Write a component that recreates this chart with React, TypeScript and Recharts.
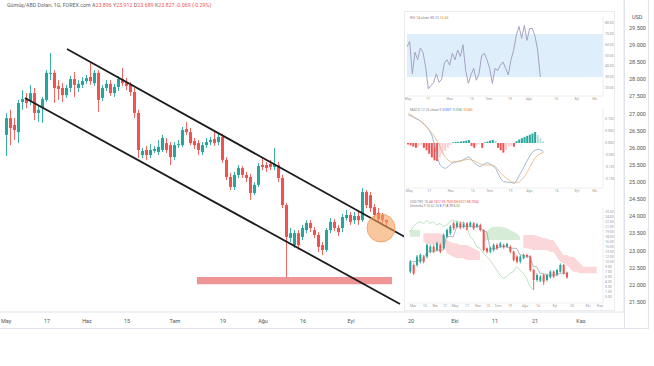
import React from "react";
import {
  ComposedChart,
  Bar,
  Line,
  Area,
  XAxis,
  YAxis,
  ReferenceLine,
  ReferenceArea,
  ReferenceDot,
  Cell,
} from "recharts";

const UP = "#26a69a";
const DOWN = "#ef5350";
const AXIS_TEXT = "#555";
const FRAME = "#e0e3eb";

// main chart: Gümüş/ABD Doları, daily candles
const OPEN = [
  26.38, 26.87, 26.67, 26.46, 27.34, 27.43, 27.37, 27.6, 27.02, 27.16,
  27.4, 28.16, 28.19, 27.81, 27.75, 27.54, 27.75, 28.01, 27.75, 27.84,
  27.95, 28.07, 27.89, 28.19, 27.46, 27.75, 27.87, 27.6, 27.78, 28.01,
  27.92, 27.84, 27.63, 27.02, 25.79, 25.94, 25.79, 25.91, 25.88, 25.94,
  26.14, 26.08, 25.73, 26.08, 26.08, 26.55, 26.46, 26.2, 26.14, 25.88,
  26.08, 26.17, 26.26, 26.17, 26.32, 25.65, 25.15, 24.86, 25.21, 25.41,
  25.21, 25.15, 24.68, 24.92, 25.5, 25.5, 25.53, 25.44, 25.5, 25.12,
  24.33, 23.37, 23.16, 23.51, 23.4, 23.6, 23.81, 23.6, 23.46, 23.16,
  23.02, 23.6, 23.84, 23.66, 23.66, 23.95, 24.04, 23.89, 24.01, 23.89,
  24.71, 24.62, 24.27, 24.1, 24.04, 23.896,
];
const HIGH = [
  27.02, 27.11, 26.87, 27.4, 27.69, 27.6, 27.84, 27.75, 27.25, 27.49,
  28.27, 28.77, 28.27, 27.98, 27.89, 27.84, 28.1, 28.22, 27.98, 28.07,
  28.13, 28.48, 28.27, 28.27, 27.84, 27.98, 27.98, 27.87, 28.1, 28.33,
  28.04, 27.92, 27.75, 27.11, 26.0, 26.06, 26.11, 26.06, 26.23, 26.38,
  26.29, 26.17, 26.17, 26.23, 26.61, 26.76, 26.58, 26.29, 26.23, 26.17,
  26.29, 26.32, 26.49, 26.41, 26.41, 25.73, 25.27, 25.3, 25.5, 25.47,
  25.3, 25.24, 25.0, 25.56, 25.73, 25.59, 25.65, 26.0, 25.59, 25.21,
  24.39, 23.66, 23.6, 23.6, 23.75, 23.89, 23.89, 23.69, 23.54, 23.25,
  23.66, 23.95, 23.92, 23.75, 24.07, 24.19, 24.13, 24.13, 24.13, 24.83,
  24.77, 24.71, 24.36, 24.24, 24.1, 23.912,
];
const LOW = [
  25.76, 26.08, 26.23, 26.14, 27.11, 27.16, 27.25, 26.81, 26.76, 26.73,
  27.34, 27.98, 27.31, 27.4, 27.34, 27.46, 27.63, 27.49, 27.63, 27.75,
  27.87, 27.84, 27.81, 27.05, 27.37, 27.66, 27.52, 27.49, 27.66, 27.81,
  27.69, 27.52, 26.87, 25.7, 25.7, 25.65, 25.7, 25.85, 25.79, 25.88,
  25.85, 25.5, 25.65, 26.0, 26.03, 26.38, 26.08, 25.97, 25.79, 25.79,
  26.0, 26.08, 26.06, 26.08, 25.56, 25.06, 24.77, 24.77, 25.12, 25.12,
  25.0, 24.48, 24.62, 24.86, 25.35, 25.3, 25.35, 25.35, 25.0, 24.24,
  22.23, 23.25, 23.08, 23.02, 23.31, 23.51, 23.54, 23.37, 22.96, 22.87,
  22.96, 23.51, 23.57, 23.43, 23.54, 23.87, 23.75, 23.78, 23.75, 23.84,
  24.24, 24.13, 23.95, 23.84, 23.8, 23.689,
];
const CLOSE = [
  26.87, 26.58, 26.52, 27.31, 27.43, 27.31, 27.6, 27.02, 27.11, 27.43,
  28.19, 28.19, 27.75, 27.72, 27.54, 27.75, 28.01, 27.84, 27.87, 27.95,
  28.04, 27.95, 28.19, 27.4, 27.75, 27.87, 27.6, 27.78, 28.01, 27.89,
  27.81, 27.63, 27.02, 25.94, 25.91, 25.79, 25.94, 25.97, 26.03, 26.29,
  25.94, 25.73, 26.08, 26.11, 26.52, 26.46, 26.14, 26.08, 25.94, 26.08,
  26.17, 26.23, 26.14, 26.32, 25.65, 25.15, 24.86, 25.21, 25.41, 25.21,
  25.12, 24.68, 24.92, 25.47, 25.44, 25.41, 25.44, 25.53, 25.12, 24.33,
  23.4, 23.51, 23.51, 23.16, 23.66, 23.81, 23.66, 23.46, 23.11, 23.02,
  23.6, 23.84, 23.66, 23.54, 23.98, 24.04, 23.84, 24.01, 23.89, 24.71,
  24.33, 24.24, 24.04, 23.92, 23.9, 23.827,
];

const X_TICKS = [-0.2, 10, 20, 30, 42, 54, 64, 74, 86, 101, 112, 122, 132, 143.5];
const X_LABELS = ["May", "17", "Haz", "15", "Tem", "19", "Ağu", "16", "Eyl", "20", "Eki", "11", "21", "Kas"];
const PRICE_TICKS = [
  21.5, 22, 22.5, 23, 23.5, 24, 24.5, 25, 25.5, 26, 26.5, 27, 27.5, 28, 28.5, 29, 29.5,
];

// drawings on the main chart
const UPPER_LINE = [
  { x: 15, y: 28.887 },
  { x: 99.5, y: 23.398 },
];
const LOWER_LINE = [
  { x: 4.5, y: 27.456 },
  { x: 98.25, y: 21.442 },
];
const SUPPORT_ZONE = { x1: 47.5, x2: 96.25, y1: 22.02, y2: 22.23 };
const MARKER = { x: 93.5, y: 23.66 };

// inset 1: RSI
const RSI = [
  58, 63, 33, 53, 46, 57, 53, 39, 19, 22, 25, 33, 25, 28, 43, 46, 41, 52, 46, 55,
  49, 60, 36, 24, 32, 38, 27, 33, 50, 52, 46, 38, 24, 38, 36, 41, 44, 38, 32, 46,
  55, 69, 77, 66, 78, 64, 75, 75, 68, 55, 30,
];
// inset 2: MACD
const HIST = [
  -0.006, -0.01, -0.015, -0.02, -0.015, -0.008, -0.02, -0.03, -0.045, -0.06, -0.072, -0.075,
  -0.06, -0.045, -0.032, -0.02, -0.008, 0.003, 0.004, 0.005, 0.006, 0.008, 0.01, 0.012,
  -0.012, -0.02, -0.008, -0.005, -0.02, 0.003, 0.006, 0.01, 0.013, 0.01, -0.02, -0.03,
  -0.04, -0.03, -0.015, -0.012, -0.015, 0.008, 0.015, 0.02, 0.025, 0.03, 0.035, 0.04,
  0.046, 0.033, 0.02, 0.007,
];
const MACD = [
  0.117, 0.113, 0.107, 0.101, 0.096, 0.088, 0.079, 0.068, 0.051, 0.029, -0.015, -0.064,
  -0.092, -0.101, -0.106, -0.099, -0.088, -0.082, -0.079, -0.076, -0.074, -0.068, -0.063,
  -0.057, -0.071, -0.085, -0.092, -0.099, -0.093, -0.085, -0.082, -0.088, -0.096, -0.106,
  -0.129, -0.151, -0.161, -0.163, -0.164, -0.165, -0.168, -0.154, -0.133, -0.113, -0.092,
  -0.071, -0.05, -0.036, -0.029, -0.026, -0.029, -0.036,
];
const SIGNAL = [
  0.124, 0.118, 0.11, 0.103, 0.096, 0.088, 0.076, 0.065, 0.054, 0.04, 0.024, 0.007,
  -0.015, -0.04, -0.06, -0.071, -0.078, -0.079, -0.078, -0.076, -0.074, -0.071, -0.069,
  -0.068, -0.071, -0.075, -0.081, -0.086, -0.09, -0.092, -0.092, -0.092, -0.093, -0.099,
  -0.113, -0.126, -0.138, -0.147, -0.154, -0.161, -0.165, -0.165, -0.161, -0.151, -0.138,
  -0.119, -0.099, -0.078, -0.06, -0.05, -0.043, -0.04,
];
const INSET_TICKS = [0.4, 7.9, 16, 24.3, 30.7, 38.6, 45.7, 56, 63.7, 70.4];
const INSET_LABELS = ["May", "17", "Haz", "15", "Tem", "19", "Ağu", "16", "Eyl", "Eki"];

// inset 3: candles with Ichimoku cloud
const I3_OPEN = [
  7.5, 9.5, 9.5, 10.5, 12, 12, 13.5, 15, 14, 15.5, 14.5, 18, 19, 22, 21, 22, 21, 22, 21.2, 22,
  21, 21.5, 20, 14.5, 13.5, 14, 15.5, 15, 15.5, 15, 15, 13.5, 12, 10.5, 11.5, 12.5, 12, 8, 5,
  4.8, 6.5, 5, 5.8, 7.5, 6.5, 7.5, 9.5, 7.2,
];
const I3_CLOSE = [
  10.5, 7, 12, 12.5, 10.5, 15.5, 15, 13.5, 16, 13.5, 18.5, 20, 21, 20.5, 22.2, 20.8, 22, 20.2,
  22.2, 20.5, 21.7, 20, 14, 13.5, 14.5, 15.5, 14.5, 16, 14.8, 15.8, 13.5, 11, 10.5, 12, 12.5,
  12, 8, 5, 6.5, 6, 4.5, 6.5, 7.5, 6, 8, 9.5, 7, 5.8,
];
const I3_HIGH = [
  11, 10, 12.5, 13, 12.5, 16, 15.5, 15.5, 16.5, 16, 19, 20.5, 21.5, 22.5, 22.8, 22.5, 22.5,
  22.4, 22.6, 22.4, 22.1, 21.9, 20.3, 14.8, 15, 16, 16, 16.4, 15.9, 16.2, 15.4, 13.8, 12.4,
  12.4, 12.9, 12.9, 12.4, 8.4, 7, 6.4, 6.9, 6.9, 7.9, 7.9, 8.4, 10, 9.8, 7.5,
];
const I3_LOW = [
  7, 6.5, 9, 10, 10, 11.5, 13, 13, 13.5, 13, 14, 17.5, 18.5, 20, 20.5, 20.2, 20.5, 19.8, 20.8,
  20, 20.6, 19.6, 13.5, 13, 13, 13.5, 14, 14.6, 14.4, 14.6, 13, 10.6, 10, 10, 11.2, 11.6, 7.5,
  2, 4.5, 4.4, 3.5, 4.6, 5.4, 5.6, 6.1, 7.2, 6.6, 5.4,
];
const SPAN_A = [
  20, 20, 20, 20, 16.5, 16, 15.5, 15.5, 15.5, 15.5, 15.8, 13, 12.5, 12, 11.5, 11.5, 11.5, 11,
  11, 11, 11, 11, 18, 19.5, 20.5, 21, 21, 21, 20.8, 20.5, 20, 19.5, 19, 18, 14.5, 14.5, 14.3,
  14, 14, 14, 14, 14, 13.5, 13.5, 12, 10.5, 10, 9.5, 8.5, 7.5, 7.5, 7, 7, 7, 7, 7, 7,
];
const SPAN_B = [
  18, 18, 18, 18, 19, 19, 19, 19, 19, 19, 18.5, 17, 16.5, 16, 16, 15.5, 15.5, 15.5, 15, 14.5,
  14, 13.5, 16.5, 17, 17, 17, 17, 17, 17, 17, 17, 17, 17, 17, 18.5, 18.5, 18.5, 18.5, 18.3, 18,
  17.5, 17.5, 17, 17, 15.5, 14, 12.5, 12.5, 12, 12, 11, 10, 9, 9, 9, 9, 9,
];
const LAGGING = [
  19.5, 21, 22, 22.5, 22, 22.8, 22, 22.5, 21.5, 22, 21, 21.5, 22.5, 23, 22.2, 22.5, 22, 21, 18,
  17, 15, 14.5, 13, 12, 11, 9.5, 8, 6.5, 5.5, 6, 7, 7.5, 9, 8, 7, 5.5, 3, 2,
];
const BASE_LINE = [
  10.5, 10.5, 10.5, 11, 11, 13.5, 13.5, 13.5, 14, 14, 14, 18, 18, 18, 21, 21, 21, 21, 21, 21,
  21, 21, 19.5, 19.5, 14.5, 14.5, 14.5, 15, 15, 15, 14.5, 14.5, 14.5, 12.5, 12.5, 12, 12, 9, 9,
  7, 7, 6.5, 6.5, 6.5, 6.5, 7, 7, 7,
];
const I3_TICKS = [0.9, 4.5, 7.5, 10.5, 13.5, 17.1, 20.4, 23.4, 26.4, 30, 34.5, 38.4, 43.5, 48.6, 53.4, 57];
const I3_LABELS = ["Mar", "15", "Nis", "12", "May", "17", "Haz", "15", "Tem", "19", "Ağu", "16", "Eyl", "20", "Eki", "Kas"];
const I3_PRICE_TICKS = [
  0, 1.5, 3, 4.5, 6, 7.5, 9, 10.5, 12, 13.5, 15, 16.5, 18, 19.5, 21, 22.5, 24, 25.5,
];

const mainData = OPEN.map((o, i) => ({
  i,
  o,
  h: HIGH[i],
  l: LOW[i],
  c: CLOSE[i],
  range: [LOW[i], HIGH[i]],
}));

const rsiData = RSI.map((v, i) => ({ i, v }));

const macdData = HIST.map((h, i) => ({ i, h, macd: MACD[i], signal: SIGNAL[i] }));

const histColor = (h: number, prev: number) => {
  if (h >= 0) return h >= prev ? "#26a69a" : "#b2dfdb";
  return h <= prev ? "#ef5350" : "#ffcdd2";
};

const ichiData = SPAN_A.map((a, i) => {
  const b = SPAN_B[i];
  const row: any = {
    i,
    green: a >= b ? [b, a] : null,
    red: a < b ? [a, b] : null,
    lag: i < LAGGING.length ? LAGGING[i] : null,
    base: i < BASE_LINE.length ? BASE_LINE[i] : null,
  };
  if (i < I3_OPEN.length) {
    row.o = I3_OPEN[i];
    row.h = I3_HIGH[i];
    row.l = I3_LOW[i];
    row.c = I3_CLOSE[i];
    row.range = [I3_LOW[i], I3_HIGH[i]];
  } else {
    row.range = null;
  }
  return row;
});

const Candle = (props: any) => {
  const { x, y, width, height, payload } = props;
  if (!payload || payload.o == null || x == null || y == null) return null;
  const { o, h, l, c } = payload;
  const top = Math.min(y, y + height);
  const span = Math.abs(height);
  const k = h - l === 0 ? 0 : span / (h - l);
  const yO = top + (h - o) * k;
  const yC = top + (h - c) * k;
  const color = c >= o ? UP : DOWN;
  const cx = x + width / 2;
  return (
    <g>
      <line x1={cx} x2={cx} y1={top} y2={top + span} stroke={color} strokeWidth={0.9} />
      <rect
        x={x}
        y={Math.min(yO, yC)}
        width={width}
        height={Math.max(Math.abs(yO - yC), 1)}
        fill={color}
      />
    </g>
  );
};

const tinyTick = { fontSize: 3.5, fill: "#999" };

export default function App() {
  return (
    <div
      style={{
        position: "absolute",
        left: 0,
        top: 0,
        width: 654,
        height: 366,
        background: "#fff",
        overflow: "hidden",
        fontFamily: "Roboto, sans-serif",
      }}
    >
      <ComposedChart
        width={654}
        height={330}
        data={mainData}
        margin={{ top: 0, right: 6, bottom: 2, left: 0 }}
      >
        <XAxis
          dataKey="i"
          type="number"
          domain={[-1.75, 154.25]}
          allowDataOverflow
          ticks={X_TICKS}
          interval={0}
          tickFormatter={(_v: number, idx: number) => X_LABELS[idx]}
          height={16}
          tickLine={false}
          tickSize={5}
          tickMargin={2}
          axisLine={{ stroke: FRAME }}
          tick={{ fontSize: 5.5, fill: AXIS_TEXT }}
        />
        <YAxis
          orientation="right"
          width={24}
          domain={[21.208, 30.318]}
          allowDataOverflow
          ticks={PRICE_TICKS}
          interval={0}
          tickFormatter={(v: number) => v.toFixed(3)}
          tickLine={false}
          tickSize={3}
          tickMargin={2}
          axisLine={{ stroke: FRAME }}
          tick={{ fontSize: 5.5, fill: AXIS_TEXT }}
        />
        <Bar dataKey="range" barSize={3} shape={(p: any) => <Candle {...p} />} isAnimationActive={false} />
        <ReferenceLine segment={UPPER_LINE} stroke="#1c1c1c" strokeWidth={1.8} ifOverflow="visible" />
        <ReferenceLine segment={LOWER_LINE} stroke="#1c1c1c" strokeWidth={1.8} ifOverflow="visible" />
        <ReferenceArea
          x1={SUPPORT_ZONE.x1}
          x2={SUPPORT_ZONE.x2}
          y1={SUPPORT_ZONE.y1}
          y2={SUPPORT_ZONE.y2}
          fill="#ee8a8a"
          fillOpacity={0.9}
          stroke="none"
          ifOverflow="visible"
        />
        <ReferenceDot
          x={MARKER.x}
          y={MARKER.y}
          r={14}
          fill="#f4a25e"
          fillOpacity={0.6}
          stroke="#f29a55"
          strokeWidth={0.8}
          ifOverflow="visible"
        />
      </ComposedChart>

      {/* frame of the price/time scales */}
      <div style={{ position: "absolute", left: 624, top: 0, width: 1, height: 328, background: FRAME }} />
      <div style={{ position: "absolute", left: 648, top: 0, width: 1, height: 328, background: FRAME }} />
      <div style={{ position: "absolute", left: 0, top: 328, width: 649, height: 1, background: FRAME }} />
      <div style={{ position: "absolute", left: 632, top: 14, fontSize: 5.5, color: AXIS_TEXT }}>USD</div>

      <div
        style={{
          position: "absolute",
          left: 7,
          top: 3,
          fontSize: 5.3,
          lineHeight: 1,
          color: "#666",
          whiteSpace: "nowrap",
        }}
      >
        Gümüş/ABD Doları, 1G, FOREX.com{" "}
        <span>A</span>
        <span style={{ color: DOWN }}>23.896</span> <span>Y</span>
        <span style={{ color: DOWN }}>23.912</span> <span>D</span>
        <span style={{ color: DOWN }}>23.689</span> <span>K</span>
        <span style={{ color: DOWN }}>23.827 -0.069 (-0.29%)</span>
      </div>

      {/* indicator screenshots pasted over the right side */}
      <div
        style={{
          position: "absolute",
          left: 405,
          top: 12,
          width: 209,
          height: 298,
          background: "#fff",
          outline: "1px solid #ececec",
        }}
      >
        <div style={{ position: "absolute", left: 0, top: 0 }}>
          <ComposedChart width={209} height={92} data={rsiData} margin={{ top: 4, right: 0, bottom: 0, left: 2 }}>
            <XAxis
              dataKey="i"
              type="number"
              domain={[0, 73.5]}
              allowDataOverflow
              ticks={INSET_TICKS}
              interval={0}
              tickFormatter={(_v: number, idx: number) => INSET_LABELS[idx]}
              height={8}
              tickLine={false}
              tickSize={1}
              tickMargin={1}
              axisLine={{ stroke: "#eee" }}
              tick={tinyTick}
            />
            <YAxis
              orientation="right"
              width={11}
              domain={[12.3, 86.7]}
              allowDataOverflow
              ticks={[20, 30, 40, 50, 60, 70, 80]}
              interval={0}
              tickFormatter={(v: number) => v.toFixed(2)}
              tickLine={false}
              tickSize={1}
              tickMargin={1}
              axisLine={{ stroke: "#eee" }}
              tick={tinyTick}
            />
            <ReferenceArea y1={30} y2={70} fill="#dfeefb" fillOpacity={1} stroke="none" />
            <Line dataKey="v" stroke="#a4a3c2" strokeWidth={1} dot={false} isAnimationActive={false} />
          </ComposedChart>
        </div>
        <div style={{ position: "absolute", left: 5, top: 4, fontSize: 3.5, color: "#888", whiteSpace: "nowrap" }}>
          RSI 14 close <span style={{ color: "#7e57c2" }}>30.12</span>{" "}
          <span style={{ color: "#f0a040" }}>55.48</span>
        </div>

        <div style={{ position: "absolute", left: 0, top: 92 }}>
          <ComposedChart width={209} height={92} data={macdData} margin={{ top: 4, right: 0, bottom: 0, left: 2 }}>
            <XAxis
              dataKey="i"
              type="number"
              domain={[-0.5, 73.5]}
              allowDataOverflow
              ticks={INSET_TICKS}
              interval={0}
              tickFormatter={(_v: number, idx: number) => INSET_LABELS[idx]}
              height={8}
              tickLine={false}
              tickSize={1}
              tickMargin={1}
              axisLine={{ stroke: "#eee" }}
              tick={tinyTick}
            />
            <YAxis
              orientation="right"
              width={11}
              domain={[-0.1875, 0.146]}
              allowDataOverflow
              ticks={[0.1, 0.05, 0, -0.05, -0.1, -0.15]}
              interval={0}
              tickFormatter={(v: number) => v.toFixed(3)}
              tickLine={false}
              tickSize={1}
              tickMargin={1}
              axisLine={{ stroke: "#eee" }}
              tick={tinyTick}
            />
            <Bar dataKey="h" barSize={2} isAnimationActive={false}>
              {macdData.map((d, i) => (
                <Cell key={i} fill={histColor(d.h, i > 0 ? macdData[i - 1].h : 0)} />
              ))}
            </Bar>
            <Line dataKey="macd" stroke="#8ea7cf" strokeWidth={0.8} dot={false} isAnimationActive={false} />
            <Line dataKey="signal" stroke="#e3b27e" strokeWidth={0.8} dot={false} isAnimationActive={false} />
          </ComposedChart>
        </div>
        <div style={{ position: "absolute", left: 5, top: 96, fontSize: 3.5, color: "#888", whiteSpace: "nowrap" }}>
          MACD 12 26 close 9 <span style={{ color: "#2962ff" }}>0.007</span>{" "}
          <span style={{ color: "#26a69a" }}>-0.036</span>{" "}
          <span style={{ color: "#ff6d00" }}>-0.040</span>
        </div>

        <div style={{ position: "absolute", left: 0, top: 184 }}>
          <ComposedChart width={209} height={115} data={ichiData} margin={{ top: 12, right: 0, bottom: 0, left: 2 }}>
            <XAxis
              dataKey="i"
              type="number"
              domain={[-0.9, 57.9]}
              allowDataOverflow
              ticks={I3_TICKS}
              interval={0}
              tickFormatter={(_v: number, idx: number) => I3_LABELS[idx]}
              height={8}
              tickLine={false}
              tickSize={1}
              tickMargin={1}
              axisLine={{ stroke: "#eee" }}
              tick={tinyTick}
            />
            <YAxis
              orientation="right"
              width={11}
              domain={[-1.9, 26.6]}
              allowDataOverflow
              ticks={I3_PRICE_TICKS}
              interval={0}
              tickFormatter={(v: number) => v.toFixed(2)}
              tickLine={false}
              tickSize={1}
              tickMargin={1}
              axisLine={{ stroke: "#eee" }}
              tick={tinyTick}
            />
            <Area dataKey="green" stroke="none" fill="#c8e6c9" fillOpacity={0.75} isAnimationActive={false} />
            <Area dataKey="red" stroke="none" fill="#f9c9cc" fillOpacity={0.75} isAnimationActive={false} />
            <Line dataKey="lag" stroke="#a5d6a7" strokeWidth={0.7} dot={false} isAnimationActive={false} />
            <Line dataKey="base" stroke="#8a8a8a" strokeWidth={0.6} dot={false} isAnimationActive={false} />
            <Bar dataKey="range" barSize={2} shape={(p: any) => <Candle {...p} />} isAnimationActive={false} />
          </ComposedChart>
        </div>
        <div
          style={{
            position: "absolute",
            left: 5,
            top: 188,
            fontSize: 3.2,
            lineHeight: 1.3,
            color: "#888",
            whiteSpace: "nowrap",
          }}
        >
          <div>
            USD/TRY, 1G <span style={{ color: DOWN }}>A8.7412 Y8.7530 D8.6921 K8.7004</span>
          </div>
          <div>
            Ichimoku 9 26 52 26 <span style={{ color: "#2962ff" }}>8.71</span>{" "}
            <span style={{ color: "#b71c1c" }}>8.73</span> <span style={{ color: "#43a047" }}>8.52</span>
          </div>
        </div>
      </div>
    </div>
  );
}
